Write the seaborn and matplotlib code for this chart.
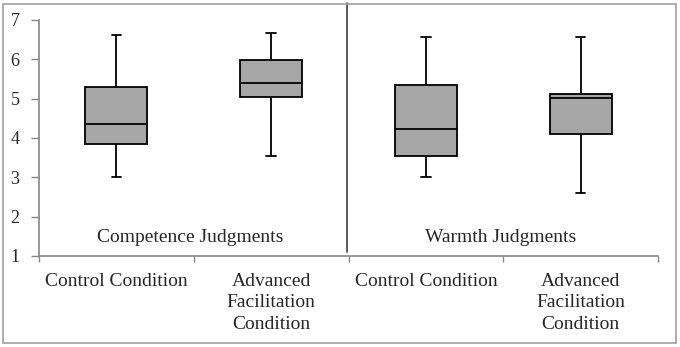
import matplotlib
matplotlib.use("Agg")
import matplotlib.pyplot as plt
from matplotlib.patches import Rectangle
import numpy as np
import pandas as pd
import seaborn as sns

# five-number summaries: min, Q1, median, Q3, max
groups = ["Competence / Control", "Competence / Advanced",
          "Warmth / Control", "Warmth / Advanced"]
comp_control = [3.02, 3.84, 4.36, 5.30, 6.62]
comp_advanced = [3.55, 5.03, 5.41, 5.99, 6.68]
warm_control = [3.02, 3.53, 4.22, 5.35, 6.56]
warm_advanced = [2.59, 4.10, 5.01, 5.12, 6.56]
tick_labels = ["Control Condition", "Advanced\nFacilitation\nCondition",
               "Control Condition", "Advanced\nFacilitation\nCondition"]
panel_titles = ["Competence Judgments", "Warmth Judgments"]

df = pd.DataFrame({
    "group": np.repeat(groups, 5),
    "value": comp_control + comp_advanced + warm_control + warm_advanced,
})

sns.set_style("white")
plt.rcParams["font.family"] = ["Liberation Serif", "DejaVu Serif"]

fig = plt.figure(figsize=(6.8, 3.47), dpi=100)
ax = fig.add_axes([39 / 680, 1 - 256 / 347, 619 / 680, 236 / 347])

sns.boxplot(data=df, x="group", y="value", order=groups, ax=ax,
            whis=(0, 100), width=0.4, color="#a6a6a6", saturation=1,
            linecolor="black", linewidth=1.3, capwidths=0.06)

ax.set_ylim(1, 7)
ax.set_xlim(-0.5, 3.5)
ax.set_xlabel("")
ax.set_ylabel("")

# ticks at the category borders, labels centred between them
ax.set_xticks([-0.5, 0.5, 1.5, 2.5, 3.5])
ax.set_xticklabels([])
ax.set_xticks(range(4), minor=True)
ax.set_xticklabels(tick_labels, minor=True, fontsize=14, linespacing=1.35)
ax.tick_params(axis="x", which="major", bottom=True, direction="out",
               length=4, color="#868686", width=1)
ax.tick_params(axis="x", which="minor", bottom=True, length=0, pad=12)
ax.set_yticks(range(1, 8))
ax.tick_params(axis="y", left=True, direction="out", length=6,
               color="#868686", width=1, labelsize=13, pad=8)
for lab in ax.get_xticklabels(minor=True):
    lab.set_verticalalignment("top")

for side in ["top", "right"]:
    ax.spines[side].set_visible(False)
for side in ["left", "bottom"]:
    ax.spines[side].set_color("#868686")
    ax.spines[side].set_linewidth(1.2)

ax.text(0.48, 1.46, panel_titles[0], ha="center", va="center", fontsize=14)
ax.text(2.48, 1.46, panel_titles[1], ha="center", va="center", fontsize=14)

# divider between the two panels
ax.plot([1.49, 1.49], [1.1, 7.43], color="#404040", lw=1.2, clip_on=False)

# grey frame around the whole chart
fig.add_artist(Rectangle((3 / 680, 4 / 347), 673 / 680, 339 / 347,
                         transform=fig.transFigure, fill=False,
                         edgecolor="#a0a0a0", lw=1.2))

fig.savefig("out.png", dpi=100)
